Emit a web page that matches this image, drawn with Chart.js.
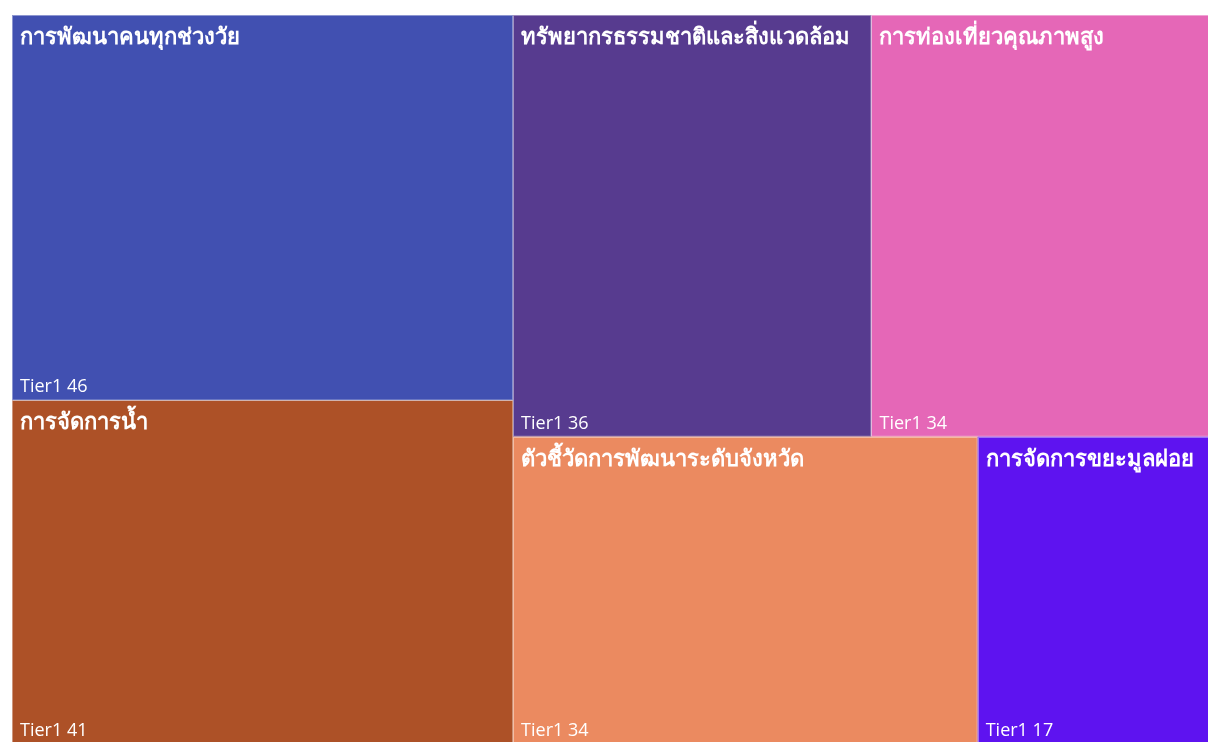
<!DOCTYPE html>
<html>
<head>
<meta charset="utf-8">
<script src="https://cdn.jsdelivr.net/npm/chart.js@4"></script>
<style>
  body { margin: 0; background: #fff; overflow: hidden; }
  #wrap { width: 1208px; height: 742px; overflow: hidden; }
</style>
</head>
<body>
<div id="wrap"><canvas id="myChart" width="1210" height="744"></canvas></div>
<script>
// treemap data
var labels = ['การพัฒนาคนทุกช่วงวัย', 'การจัดการน้ำ', 'ทรัพยากรธรรมชาติและสิ่งแวดล้อม',
              'การท่องเที่ยวคุณภาพสูง', 'ตัวชี้วัดการพัฒนาระดับจังหวัด', 'การจัดการขยะมูลฝอย'];
var values = [46, 41, 36, 34, 34, 17];
var colors = ['#4150B1', '#AD5127', '#573B8F', '#E567B7', '#EB8A60', '#5E13F0'];
var tierLabel = 'Tier1';

var W = 1198, H = 729;

// squarified layout in data units (x 0..W, y 0..H)
function worst(row, side, scale) {
  var s = 0, mx = 0, mn = Infinity;
  row.forEach(function (v) { s += v; mx = Math.max(mx, v); mn = Math.min(mn, v); });
  s *= scale; mx *= scale; mn *= scale;
  return Math.max(side * side * mx / (s * s), (s * s) / (side * side * mn));
}
function squarify(vals, rect) {
  var total = vals.reduce(function (a, b) { return a + b; }, 0);
  var scale = rect.w * rect.h / total;
  var out = [], i = 0;
  var r = { x: rect.x, y: rect.y, w: rect.w, h: rect.h };
  while (i < vals.length) {
    var side = Math.min(r.w, r.h);
    var row = [vals[i]], j = i + 1;
    while (j < vals.length && worst(row.concat([vals[j]]), side, scale) <= worst(row, side, scale)) {
      row.push(vals[j]); j++;
    }
    var sum = row.reduce(function (a, b) { return a + b; }, 0) * scale;
    if (r.w >= r.h) { // column on the left
      var cw = sum / r.h, yy = r.y;
      row.forEach(function (v) { var hh = v * scale / cw; out.push({ x: r.x, y: yy, w: cw, h: hh }); yy += hh; });
      r = { x: r.x + cw, y: r.y, w: r.w - cw, h: r.h };
    } else { // row on top
      var rh = sum / r.w, xx = r.x;
      row.forEach(function (v) { var ww = v * scale / rh; out.push({ x: xx, y: r.y, w: ww, h: rh }); xx += ww; });
      r = { x: r.x, y: r.y + rh, w: r.w, h: r.h - rh };
    }
    i = j;
  }
  return out;
}
var cells = squarify(values, { x: 0, y: 0, w: W, h: H });

var treemapPlugin = {
  id: 'treemapCells',
  beforeDatasetsDraw: function (chart) {
    var c = chart.ctx, xs = chart.scales.x, ys = chart.scales.y;
    c.save();
    cells.forEach(function (r, i) {
      var x0 = xs.getPixelForValue(r.x), x1 = xs.getPixelForValue(r.x + r.w);
      var y0 = ys.getPixelForValue(r.y), y1 = ys.getPixelForValue(r.y + r.h);
      c.fillStyle = colors[i];
      c.fillRect(x0, y0, x1 - x0, y1 - y0);
      c.strokeStyle = 'rgba(255,255,255,0.4)';
      c.lineWidth = 1;
      c.strokeRect(Math.round(x0) + 0.5, Math.round(y0) + 0.5, x1 - x0 - 1, y1 - y0 - 1);
      c.fillStyle = '#ffffff';
      c.textAlign = 'left';
      c.textBaseline = 'alphabetic';
      c.font = 'bold 22px "Segoe UI", Tahoma, "Noto Sans", sans-serif';
      c.fillText(labels[i], x0 + 8, y0 + 29);
      c.font = '18px "Segoe UI", "Open Sans", "Noto Sans", sans-serif';
      c.fillText(tierLabel + ' ' + values[i], x0 + 8, y1 - 8);
    });
    c.restore();
  }
};

var ctx = document.getElementById('myChart').getContext('2d');
var chart = new Chart(ctx, {
  type: 'scatter',
  data: {
    datasets: [{ data: [] }]
  },
  options: {
    responsive: false,
    animation: false,
    layout: { padding: { left: 12, top: 15, right: 0, bottom: 0 } },
    plugins: { legend: { display: false }, tooltip: { enabled: false } },
    scales: {
      x: { type: 'linear', min: 0, max: W, display: false },
      y: { type: 'linear', min: 0, max: H, reverse: true, display: false }
    }
  },
  plugins: [treemapPlugin]
});
</script>
</body>
</html>
